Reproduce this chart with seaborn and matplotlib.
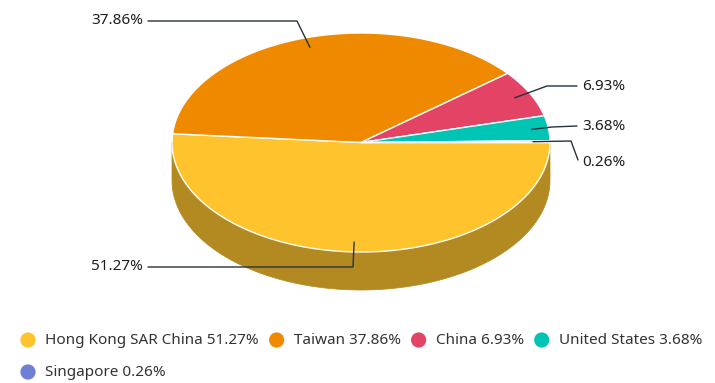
import numpy as np
import matplotlib
matplotlib.use("Agg")
import matplotlib.pyplot as plt
import seaborn as sns
from matplotlib.patches import Polygon

# ---- data ----
countries = ["Hong Kong SAR China", "Taiwan", "China", "United States", "Singapore"]
shares = [51.27, 37.86, 6.93, 3.68, 0.26]
colors = ["#FFC42D", "#EF8A00", "#E34465", "#00C4B4", "#6E7FD5"]
side_color = "#B38A22"

sns.set_theme(style="white")
plt.rcParams["font.family"] = ["Noto Sans", "DejaVu Sans"]

W, H = 715, 383
fig = plt.figure(figsize=(W / 100, H / 100), dpi=100)
ax = fig.add_axes([0, 0, 1, 1])
ax.set_xlim(0, W)
ax.set_ylim(H, 0)
ax.axis("off")

cx, cy, rx, ry, depth = 361, 142.5, 189, 109.5, 38

vals = np.array(shares)
angles = np.concatenate([[0], np.cumsum(vals) / vals.sum() * 360])

def edge(t0, t1, n=200):
    t = np.radians(np.linspace(t0, t1, n))
    return cx + rx * np.cos(t), cy + ry * np.sin(t)

# side walls (front half: 0..180 deg, y grows downward)
for i in range(len(vals)):
    a0, a1 = max(angles[i], 0), min(angles[i + 1], 180)
    if a1 > a0:
        x, y = edge(a0, a1)
        pts = np.column_stack([np.concatenate([x, x[::-1]]),
                               np.concatenate([y, y[::-1] + depth])])
        ax.add_patch(Polygon(pts, closed=True, facecolor=side_color,
                             edgecolor=side_color, lw=0.5, zorder=1))

# top faces
for i in range(len(vals)):
    x, y = edge(angles[i], angles[i + 1])
    pts = np.column_stack([np.concatenate([[cx], x]), np.concatenate([[cy], y])])
    ax.add_patch(Polygon(pts, closed=True, facecolor=colors[i],
                         edgecolor="white", lw=1.0, zorder=2))

# leader lines and labels
lc = "#25323F"
tc = "#1E1E1E"
fs = 11
layout = {
    0: dict(via=[(353, 267), (148, 267)], text=(143, 267), ha="right"),
    1: dict(via=[(297, 21), (148, 21)], text=(143, 21), ha="right"),
    2: dict(via=[(547, 86), (577, 86)], text=(582, 87), ha="left"),
    3: dict(via=[(552, 127), (577, 126)], text=(582, 127), ha="left"),
    4: dict(via=[(571, 141), (578, 160)], text=(582, 163), ha="left"),
}
for i in range(len(vals)):
    mid = np.radians((angles[i] + angles[i + 1]) / 2)
    ax0 = cx + 0.91 * rx * np.cos(mid)
    ay0 = cy + 0.91 * ry * np.sin(mid)
    L = layout[i]
    xs = [ax0] + [p[0] for p in L["via"]]
    ys = [ay0] + [p[1] for p in L["via"]]
    ax.plot(xs, ys, color=lc, lw=1.0, zorder=3)
    ax.text(L["text"][0], L["text"][1], f"{shares[i]:.2f}%", ha=L["ha"],
            va="center", fontsize=fs, color=tc, zorder=4)

# legend
rows = [[0, 1, 2, 3], [4]]
row_y = [340, 372]
fig.canvas.draw()
renderer = fig.canvas.get_renderer()
inv = ax.transData.inverted()
for r, idxs in enumerate(rows):
    x = 28
    for i in idxs:
        ax.scatter([x], [row_y[r]], s=120, color=colors[i], edgecolor="none", zorder=4)
        t = ax.text(x + 17, row_y[r], f"{countries[i]} {shares[i]:.2f}%",
                    ha="left", va="center", fontsize=fs, color="#333333")
        bb = t.get_window_extent(renderer=renderer)
        x_end = inv.transform((bb.x1, bb.y0))[0]
        x = x_end + 18

fig.savefig("out.png", dpi=100)
